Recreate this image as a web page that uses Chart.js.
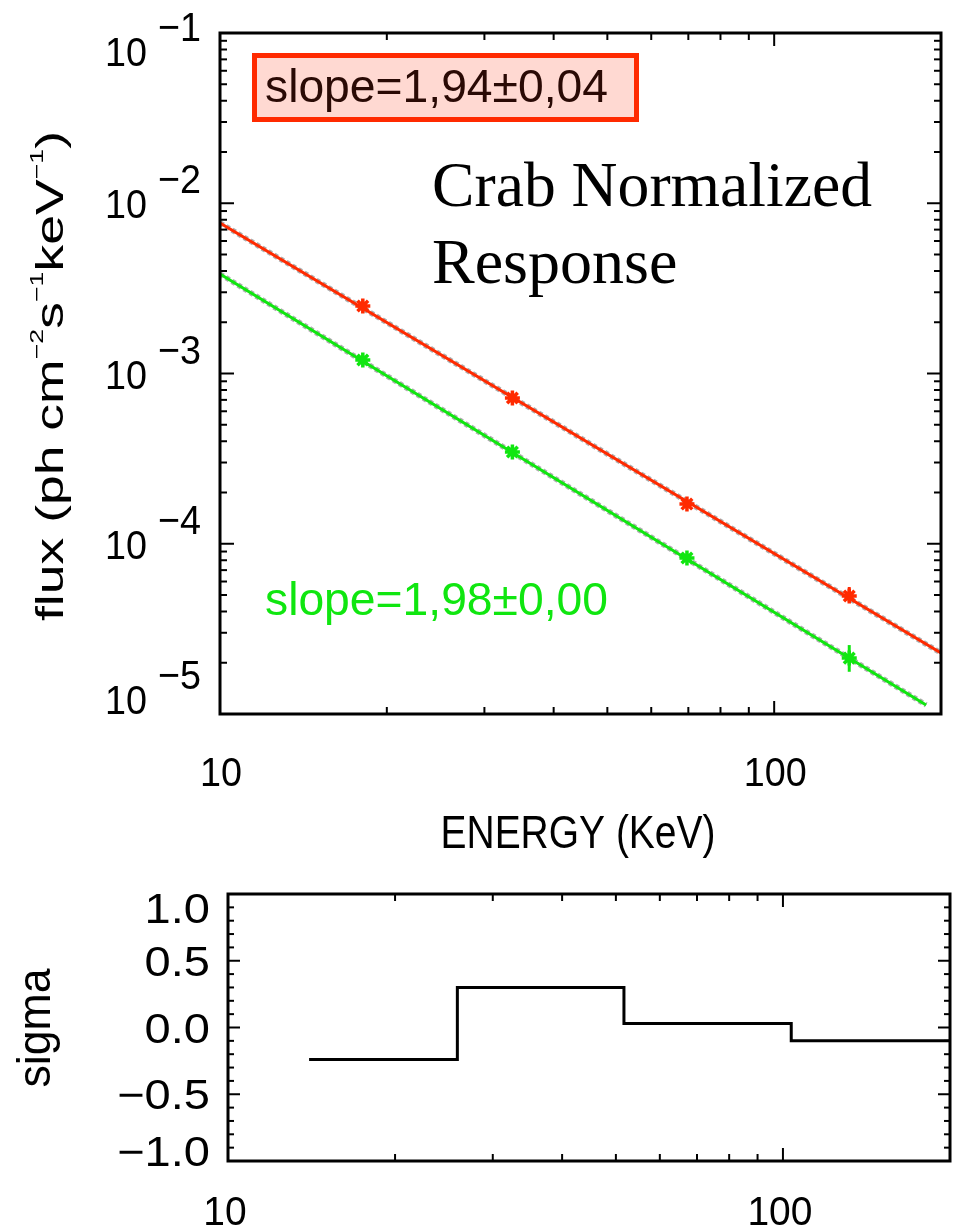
<!DOCTYPE html>
<html><head><meta charset="utf-8">
<script src="https://cdn.jsdelivr.net/npm/chart.js@4.4.1/dist/chart.umd.min.js"></script>
<style>
html,body{margin:0;padding:0;background:#fff;}
#wrap{position:relative;width:953px;height:1228px;background:#fff;}
canvas{position:absolute;left:0;}
</style>
</head><body>
<div id="wrap">
<canvas id="topc" width="953" height="880" style="top:0px;width:953px;height:880px"></canvas>
<canvas id="botc" width="953" height="348" style="top:880px;width:953px;height:348px"></canvas>
</div>
<script>
// ---------- data ----------
const energies      = [18.1, 33.7, 69.6, 136.6];          // keV
const redFlux       = [2.49e-3, 7.18e-4, 1.71e-4, 4.93e-5];
const redErrLow     = [2.40e-3, 6.95e-4, 1.62e-4, 4.55e-5];
const redErrHigh    = [2.58e-3, 7.40e-4, 1.82e-4, 5.57e-5];
const greenFlux     = [1.20e-3, 3.46e-4, 8.25e-5, 2.13e-5];
const greenErrLow   = [1.17e-3, 3.38e-4, 8.05e-5, 1.77e-5];
const greenErrHigh  = [1.23e-3, 3.54e-4, 8.45e-5, 2.54e-5];

const redFitEnergy   = [10, 200];
const redFitFlux     = [7.66e-3, 2.28e-5];
const greenFitEnergy = [10, 188];
const greenFitFlux   = [3.84e-3, 1.13e-5];

const sigmaEdges  = [14.0, 25.9, 51.7, 103.5, 200];
const sigmaValues = [-0.24, 0.30, 0.03, -0.10];

const fluxTickValues = [1e-1, 1e-2, 1e-3, 1e-4, 1e-5];
const fluxTickExps   = ['\u22121', '\u22122', '\u22123', '\u22124', '\u22125'];
const energyTickValues = [10, 100];
const energyTickLabels = ['10', '100'];
const sigmaTickValues = [1.0, 0.5, 0.0, -0.5, -1.0];
const sigmaTickLabels = ['1.0', '0.5', '0.0', '\u22120.5', '\u22121.0'];

const redSlopeText   = 'slope=1,94\u00B10,04';
const greenSlopeText = 'slope=1,98\u00B10,00';
const noteLines = ['Crab Normalized', 'Response'];

// ---------- styles ----------
const RED = '#ff2a00';
const GREEN = '#10e610';
const SANS = "'Liberation Sans', Arial, sans-serif";
const SERIF = "'Liberation Serif', 'Times New Roman', serif";

function drawText(ctx, s, x, y, o) {
  ctx.save();
  ctx.font = (o.size) + 'px ' + (o.family || SANS);
  ctx.fillStyle = o.color || '#000';
  ctx.textBaseline = 'alphabetic';
  ctx.textAlign = 'left';
  const w = ctx.measureText(s).width;
  const sx = o.width ? o.width / w : (o.sx || 1);
  ctx.translate(x, y);
  if (o.rot) ctx.rotate(o.rot);
  const tw = w * sx;
  const ax = o.align === 'right' ? -tw : (o.align === 'center' ? -tw / 2 : 0);
  ctx.translate(ax, 0);
  ctx.scale(sx, 1);
  ctx.fillText(s, 0, 0);
  ctx.restore();
}

// draw a text made of segments (some superscript), scaled to a target width
function drawRich(ctx, segs, x, y, o) {
  ctx.save();
  const base = o.size, sup = Math.round(o.size * 0.5);
  let total = 0;
  const widths = segs.map(sg => {
    ctx.font = (sg.sup ? sup : base) + 'px ' + SANS;
    const w = ctx.measureText(sg.t).width;
    total += w;
    return w;
  });
  const sx = o.width / total;
  ctx.translate(x, y);
  if (o.rot) ctx.rotate(o.rot);
  ctx.translate(-o.width / 2, 0);
  ctx.scale(sx, 1);
  ctx.fillStyle = '#000';
  ctx.textBaseline = 'alphabetic';
  let cx = 0;
  segs.forEach((sg, i) => {
    ctx.font = (sg.sup ? sup : base) + 'px ' + SANS;
    ctx.fillText(sg.t, cx, sg.sup ? -base * 0.52 : 0);
    cx += widths[i];
  });
  ctx.restore();
}

function line(ctx, x1, y1, x2, y2) {
  ctx.beginPath(); ctx.moveTo(x1, y1); ctx.lineTo(x2, y2); ctx.stroke();
}

function drawFrame(chart, xTicks, yTicks) {
  const {ctx, chartArea: a, scales: {x, y}} = chart;
  ctx.save();
  ctx.strokeStyle = '#000';
  ctx.lineWidth = 2;
  xTicks.forEach(t => {
    const px = x.getPixelForValue(t.v);
    line(ctx, px, a.bottom, px, a.bottom - t.len);
    line(ctx, px, a.top, px, a.top + t.len);
  });
  yTicks.forEach(t => {
    const py = y.getPixelForValue(t.v);
    line(ctx, a.left, py, a.left + t.len, py);
    line(ctx, a.right, py, a.right - t.len, py);
  });
  ctx.lineWidth = 3;
  ctx.strokeRect(a.left, a.top, a.right - a.left, a.bottom - a.top);
  ctx.restore();
}

// tick positions (log minor ticks)
const topXTicks = [];
for (let m = 2; m <= 9; m++) topXTicks.push({v: m * 10, len: 7});
topXTicks.push({v: 100, len: 13}, {v: 200, len: 7});
const topYTicks = [];
for (let d = -5; d <= -2; d++) {
  topYTicks.push({v: Math.pow(10, d), len: 14});
  for (let m = 2; m <= 9; m++) topYTicks.push({v: m * Math.pow(10, d), len: 7});
}
const botYTicks = [];
for (let i = -10; i <= 10; i++) botYTicks.push({v: i / 10, len: (i % 5 === 0) ? 12 : 6});

function xy(xs, ys) { return xs.map((v, i) => ({x: v, y: ys[i]})); }

// ---------- top chart ----------
const topPlugin = {
  id: 'topDecor',
  afterDatasetsDraw(chart) {
    const {ctx, chartArea: a, scales: {x, y}} = chart;
    drawFrame(chart, topXTicks, topYTicks);
    // y tick labels 10^-n
    fluxTickValues.forEach((v, i) => {
      let cy = y.getPixelForValue(v);
      cy = Math.min(Math.max(cy, a.top + 18), a.bottom - 15);
      drawText(ctx, '10', 147, cy + 15, {size: 41, sx: 0.92, align: 'right'});
      drawText(ctx, fluxTickExps[i], 201, cy - 25 + 15, {size: 41, sx: 0.92, align: 'right'});
    });
    // x tick labels
    energyTickValues.forEach((v, i) => {
      const px = x.getPixelForValue(v);
      drawText(ctx, energyTickLabels[i], px + 1, 771 + 15, {size: 41, sx: 0.92, align: 'center'});
    });
    // axis titles
    drawText(ctx, 'ENERGY (KeV)', 578, 848, {size: 46, width: 275, align: 'center'});
    drawRich(ctx, [
      {t: 'flux (ph cm'}, {t: '\u22122', sup: true}, {t: 's'}, {t: '\u22121', sup: true},
      {t: 'keV'}, {t: '\u22121', sup: true}, {t: ')'}
    ], 63, 376, {size: 38, width: 490, rot: -Math.PI / 2});
    // red slope box
    ctx.save();
    ctx.fillStyle = '#ffd9d2';
    ctx.fillRect(254, 55, 382, 64);
    ctx.strokeStyle = RED;
    ctx.lineWidth = 5;
    ctx.strokeRect(254.5, 55.5, 382, 64);
    ctx.restore();
    drawText(ctx, redSlopeText, 265, 102, {size: 46, width: 343, color: '#2a0a05'});
    // green slope text
    drawText(ctx, greenSlopeText, 265, 615, {size: 46, width: 343, color: GREEN});
    // note
    drawText(ctx, noteLines[0], 432, 206, {size: 64, family: SERIF, width: 440});
    drawText(ctx, noteLines[1], 432, 283, {size: 64, family: SERIF});
  }
};

function errDatasets(xs, lo, hi, color) {
  return xs.map((v, i) => ({
    data: [{x: v, y: lo[i]}, {x: v, y: hi[i]}],
    showLine: true, borderColor: color, borderWidth: 3, pointRadius: 0, order: 1
  }));
}

new Chart(document.getElementById('topc'), {
  type: 'scatter',
  data: {
    datasets: [
      {data: xy(redFitEnergy, redFitFlux), showLine: true, borderColor: 'rgba(120,120,120,0.6)', borderWidth: 5.5, borderDash: [4, 3], pointRadius: 0, order: 4},
      {data: xy(greenFitEnergy, greenFitFlux), showLine: true, borderColor: 'rgba(120,120,120,0.6)', borderWidth: 5.5, borderDash: [4, 3], pointRadius: 0, order: 4},
      {data: xy(redFitEnergy, redFitFlux), showLine: true, borderColor: RED, borderWidth: 3, pointRadius: 0, order: 3},
      {data: xy(greenFitEnergy, greenFitFlux), showLine: true, borderColor: GREEN, borderWidth: 3, pointRadius: 0, order: 3},
      ...errDatasets(energies, redErrLow, redErrHigh, RED),
      ...errDatasets(energies, greenErrLow, greenErrHigh, GREEN),
      {data: xy(energies, redFlux), pointStyle: 'star', pointRadius: 7.5, borderColor: RED, backgroundColor: RED, pointBorderWidth: 3.5, order: 0},
      {data: xy(energies, greenFlux), pointStyle: 'star', pointRadius: 7.5, borderColor: GREEN, backgroundColor: GREEN, pointBorderWidth: 3.5, order: 0}
    ]
  },
  options: {
    responsive: false, animation: false, devicePixelRatio: 1,
    layout: {padding: {left: 220, top: 33, right: 12, bottom: 166}},
    plugins: {legend: {display: false}, tooltip: {enabled: false}},
    scales: {
      x: {type: 'logarithmic', min: 10, max: 200, display: false},
      y: {type: 'logarithmic', min: 1e-5, max: 1e-1, display: false}
    }
  },
  plugins: [topPlugin]
});

// ---------- bottom chart ----------
const botXTicks = [];
for (let m = 2; m <= 9; m++) botXTicks.push({v: m * 10, len: 7});
botXTicks.push({v: 100, len: 13}, {v: 200, len: 7});

const botPlugin = {
  id: 'botDecor',
  afterDatasetsDraw(chart) {
    const {ctx, chartArea: a, scales: {x, y}} = chart;
    drawFrame(chart, botXTicks, botYTicks);
    sigmaTickValues.forEach((v, i) => {
      let cy = y.getPixelForValue(v);
      cy = Math.min(Math.max(cy, a.top + 14), a.bottom - 10);
      drawText(ctx, sigmaTickLabels[i], 210, cy + 15, {size: 42, sx: 1.12, align: 'right'});
    });
    energyTickValues.forEach((v, i) => {
      const px = x.getPixelForValue(v);
      drawText(ctx, energyTickLabels[i], px - 3, 330 + 15, {size: 41, sx: 0.95, align: 'center'});
    });
    drawText(ctx, 'sigma', 50, 148, {size: 46, width: 119, align: 'center', rot: -Math.PI / 2});
  }
};

const stepPts = sigmaEdges.map((e, i) => ({x: e, y: sigmaValues[Math.min(i, sigmaValues.length - 1)]}));

new Chart(document.getElementById('botc'), {
  type: 'scatter',
  data: {
    datasets: [
      {data: stepPts, showLine: true, stepped: 'before', borderColor: '#000', borderWidth: 3, pointRadius: 0}
    ]
  },
  options: {
    responsive: false, animation: false, devicePixelRatio: 1,
    layout: {padding: {left: 228, top: 14, right: 3, bottom: 67}},
    plugins: {legend: {display: false}, tooltip: {enabled: false}},
    scales: {
      x: {type: 'logarithmic', min: 10, max: 200, display: false},
      y: {type: 'linear', min: -1, max: 1, display: false}
    }
  },
  plugins: [botPlugin]
});
</script>
</body></html>
